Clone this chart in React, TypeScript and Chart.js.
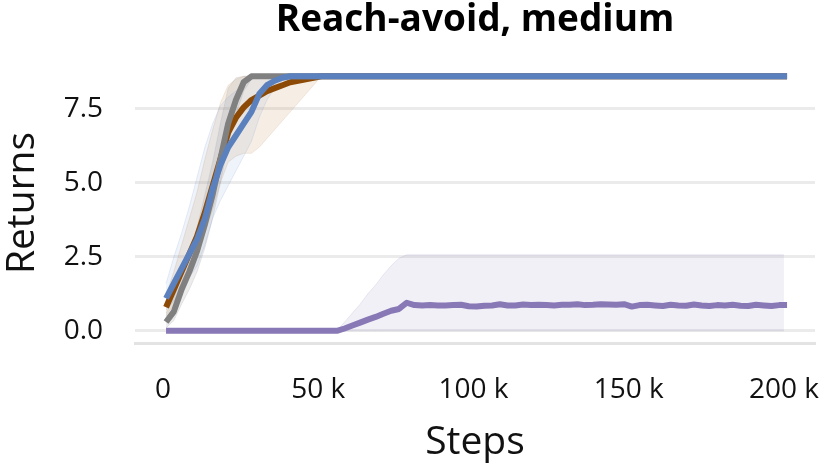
import React, { useEffect, useRef } from "react";
import { Chart, registerables } from "chart.js";

Chart.register(...registerables);

// steps in thousands
const earlySteps = [1, 3.5, 6, 8.5, 11, 13.5, 16, 18.5, 21, 23.5, 26, 28.5, 31, 33.5, 36, 38.5, 41, 43.5, 46, 48.5, 51, 201];

const grayMean = [0.3, 0.65, 1.4, 2.0, 2.7, 3.6, 4.6, 5.8, 7.0, 7.8, 8.4, 8.6, 8.6, 8.6, 8.6, 8.6, 8.6, 8.6, 8.6, 8.6, 8.6, 8.6];
const grayLow = [0.1, 0.35, 0.9, 1.4, 2.0, 2.8, 3.8, 5.0, 6.3, 7.3, 8.1, 8.5, 8.6, 8.6, 8.6, 8.6, 8.6, 8.6, 8.6, 8.6, 8.6, 8.6];
const grayHigh = [0.6, 1.1, 2.0, 2.7, 3.5, 4.6, 5.7, 7.0, 8.2, 8.55, 8.6, 8.6, 8.6, 8.6, 8.6, 8.6, 8.6, 8.6, 8.6, 8.6, 8.6, 8.6];

const brownMean = [0.8, 1.4, 2.0, 2.6, 3.2, 4.0, 4.9, 5.8, 6.7, 7.2, 7.55, 7.8, 7.95, 8.1, 8.2, 8.3, 8.4, 8.45, 8.5, 8.55, 8.6, 8.6];
const brownLow = [0.5, 0.9, 1.5, 2.1, 2.6, 3.3, 4.1, 5.0, 5.7, 5.9, 6.0, 6.0, 6.2, 6.5, 6.8, 7.1, 7.4, 7.7, 8.0, 8.3, 8.6, 8.6];
const brownHigh = [1.2, 2.0, 2.9, 3.8, 4.7, 5.8, 6.8, 7.7, 8.3, 8.5, 8.6, 8.6, 8.6, 8.6, 8.6, 8.6, 8.6, 8.6, 8.6, 8.6, 8.6, 8.6];

const blueMean = [1.1, 1.6, 2.1, 2.6, 3.1, 3.8, 4.8, 5.6, 6.2, 6.6, 7.0, 7.4, 8.0, 8.3, 8.45, 8.55, 8.6, 8.6, 8.6, 8.6, 8.6, 8.6];
const blueLow = [0.7, 1.0, 1.4, 1.8, 2.2, 2.9, 3.8, 4.4, 4.9, 5.4, 5.9, 6.4, 7.2, 7.8, 8.2, 8.45, 8.6, 8.6, 8.6, 8.6, 8.6, 8.6];
const blueHigh = [1.6, 2.5, 3.3, 4.2, 5.2, 6.2, 7.0, 7.6, 7.9, 8.1, 8.3, 8.5, 8.6, 8.6, 8.6, 8.6, 8.6, 8.6, 8.6, 8.6, 8.6, 8.6];

const purpleSteps = [1, 56, 58.5, 61, 63.5, 66, 68.5, 71, 73.5, 76, 78.5, 81, 83.5, 86, 88.5, 91, 93.5, 96, 98.5, 101, 103.5, 106, 108.5, 111, 113.5, 116, 118.5, 121, 123.5, 126, 128.5, 131, 133.5, 136, 138.5, 141, 143.5, 146, 148.5, 151, 153.5, 156, 158.5, 161, 163.5, 166, 168.5, 171, 173.5, 176, 178.5, 181, 183.5, 186, 188.5, 191, 193.5, 196, 198.5, 201];
const purpleMean = [0, 0, 0.08, 0.18, 0.28, 0.38, 0.47, 0.58, 0.68, 0.74, 0.95, 0.87, 0.86, 0.87, 0.86, 0.86, 0.87, 0.88, 0.83, 0.82, 0.85, 0.86, 0.9, 0.86, 0.86, 0.89, 0.87, 0.88, 0.87, 0.86, 0.88, 0.88, 0.9, 0.87, 0.88, 0.9, 0.89, 0.88, 0.9, 0.82, 0.87, 0.88, 0.86, 0.84, 0.88, 0.86, 0.85, 0.89, 0.86, 0.84, 0.87, 0.86, 0.88, 0.85, 0.84, 0.88, 0.86, 0.84, 0.87, 0.87];
const purpleBandSteps = [1, 56, 58.5, 61, 63.5, 66, 68.5, 71, 73.5, 76, 78.5, 200];
const purpleLow = [0, 0, 0, 0, 0, 0, 0, 0, 0, 0, 0, 0];
const purpleHigh = [0, 0, 0.3, 0.6, 0.9, 1.25, 1.55, 1.9, 2.2, 2.45, 2.57, 2.57];

const yTicks = [0, 2.5, 5, 7.5];
const xTicks = [0, 50000, 100000, 150000, 200000];
const xTickLabels = ["0", "50 k", "100 k", "150 k", "200 k"];
const TITLE = "Reach-avoid, medium";

const FONT = "'Open Sans', 'Noto Sans', sans-serif";

const pts = (xs: number[], ys: number[]) => xs.map((x, i) => ({ x: x * 1000, y: ys[i] }));

const titlePlugin = {
  id: "areaTitle",
  afterDraw(chart: any) {
    const { ctx, chartArea } = chart;
    ctx.save();
    ctx.font = `bold 37px ${FONT}`;
    ctx.fillStyle = "#000";
    ctx.textAlign = "center";
    ctx.textBaseline = "middle";
    ctx.fillText(TITLE, (chartArea.left + chartArea.right) / 2, 20);
    ctx.restore();
  },
};

export default function App() {
  const ref = useRef<HTMLCanvasElement | null>(null);
  useEffect(() => {
    if (!ref.current) return;
    const band = (xs: number[], lo: number[], hi: number[], fill: string, edge: string, order: number) => [
      { data: pts(xs, lo), borderColor: edge, borderWidth: 1, pointRadius: 0, fill: false, order },
      { data: pts(xs, hi), borderColor: edge, borderWidth: 1, pointRadius: 0, fill: "-1", backgroundColor: fill, order },
    ];
    const line = (xs: number[], ys: number[], color: string, order: number) => ({
      data: pts(xs, ys),
      borderColor: color,
      borderWidth: 6,
      pointRadius: 0,
      fill: false,
      tension: 0,
      borderJoinStyle: "round",
      borderCapStyle: "butt",
      order,
    });
    const chart = new Chart(ref.current, {
      type: "line",
      data: {
        datasets: [
          ...band(purpleBandSteps, purpleLow, purpleHigh, "rgba(136,120,180,0.11)", "rgba(136,120,180,0.15)", 10),
          ...band(earlySteps, brownLow, brownHigh, "rgba(205,160,110,0.18)", "rgba(180,130,80,0.15)", 9),
          ...band(earlySteps, grayLow, grayHigh, "rgba(128,128,128,0.15)", "rgba(128,128,128,0.15)", 8),
          ...band(earlySteps, blueLow, blueHigh, "rgba(100,140,205,0.10)", "rgba(100,140,205,0.15)", 7),
          line(purpleSteps, purpleMean, "#8878b6", 4),
          line(earlySteps, brownMean, "#8c4a06", 3),
          line(earlySteps, grayMean, "#808080", 2),
          line(earlySteps, blueMean, "#5b80be", 1),
        ],
      },
      plugins: [titlePlugin],
      options: {
        animation: false,
        responsive: true,
        maintainAspectRatio: false,
        layout: { padding: { left: 0, right: 16, top: 63, bottom: 0 } },
        plugins: {
          legend: { display: false },
          tooltip: { enabled: false },
          title: { display: false },
        },
        scales: {
          x: {
            type: "linear",
            min: -9000,
            max: 210000,
            afterBuildTicks: (s: any) => {
              s.ticks = xTicks.map((v) => ({ value: v }));
            },
            afterFit: (s: any) => {
              s.height = 124;
              s.paddingLeft = 0;
              s.paddingRight = 0;
            },
            grid: { display: false, drawTicks: false },
            border: { display: true, color: "#e3e3e3", width: 3 },
            ticks: {
              padding: 30,
              maxRotation: 0,
              autoSkip: false,
              color: "#111",
              font: { family: FONT, size: 28 },
              callback: (_v: any, i: number) => xTickLabels[i],
            },
            title: {
              display: true,
              text: "Steps",
              color: "#111",
              font: { family: FONT, size: 39, lineHeight: 1 },
              padding: { top: 0, bottom: 5 },
            },
          },
          y: {
            type: "linear",
            min: -0.41,
            max: 9.05,
            afterFit: (s: any) => {
              s.width = 135;
            },
            afterBuildTicks: (s: any) => {
              s.ticks = yTicks.map((v) => ({ value: v }));
            },
            grid: { color: "#ebebeb", lineWidth: 3, drawTicks: false },
            border: { display: false },
            ticks: {
              padding: 32,
              color: "#111",
              font: { family: FONT, size: 28 },
              callback: (v: any) => Number(v).toFixed(1),
            },
            title: {
              display: true,
              text: "Returns",
              color: "#111",
              font: { family: FONT, size: 39, lineHeight: 1 },
              padding: { top: 3, bottom: 0 },
            },
          },
        },
      },
    } as any);
    return () => chart.destroy();
  }, []);
  return (
    <div style={{ position: "fixed", left: 0, top: 0, width: 831, height: 467 }}>
      <canvas ref={ref} />
    </div>
  );
}
